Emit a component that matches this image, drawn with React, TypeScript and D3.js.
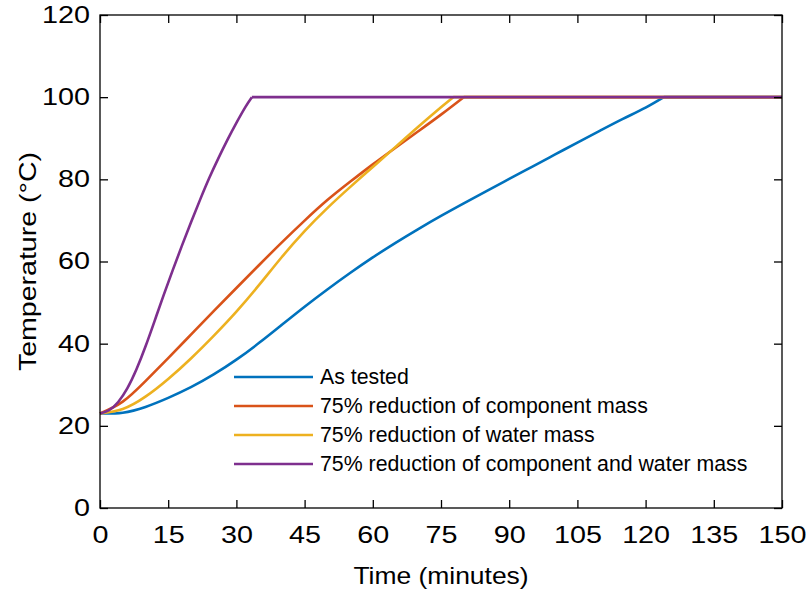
import React, { useEffect, useRef } from 'react';
import { select, scaleLinear, axisBottom, axisLeft, axisTop, axisRight, line, curveNatural } from 'd3';

// time (minutes) / temperature (°C)
const timeAsTested = [0, 5, 10, 15, 20, 25, 30, 35, 40, 45, 50, 55, 60, 65, 70, 75, 80, 85, 90, 95, 100, 105, 110, 115, 120, 124, 150];
const tempAsTested = [23, 23.2, 24.6, 26.8, 29.4, 32.5, 36.1, 40.2, 44.6, 49.0, 53.2, 57.2, 61.0, 64.55, 67.9, 71.1, 74.15, 77.15, 80.1, 83.05, 86.0, 88.95, 91.85, 94.7, 97.45, 100, 100];

const timeComponent = [0, 5, 10, 15, 20, 25, 30, 35, 40, 45, 50, 55, 60, 65, 70, 75, 80, 150];
const tempComponent = [23, 25.9, 30.9, 36.5, 42.2, 47.9, 53.55, 59.15, 64.65, 69.95, 74.95, 79.4, 83.65, 87.7, 91.7, 95.75, 100, 100];

const timeWater = [0, 5, 10, 15, 20, 25, 30, 35, 40, 45, 50, 55, 60, 65, 70, 75, 77.7, 150];
const tempWater = [23, 24.1, 27.1, 31.4, 36.4, 41.9, 47.8, 54.3, 61.1, 67.4, 73.0, 78.1, 83.0, 87.9, 92.8, 97.55, 100, 100];

const timeBoth = [0, 2, 4, 6, 8, 10, 12, 14, 16, 18, 20, 22, 24, 26, 28, 30, 32, 33.4, 150];
const tempBoth = [23, 23.8, 25.8, 29.1, 33.7, 39.3, 45.5, 51.8, 57.9, 63.8, 69.5, 75.0, 80.25, 85.05, 89.55, 93.75, 97.65, 100, 100];

const seriesNames = [
    'As tested',
    '75% reduction of component mass',
    '75% reduction of water mass',
    '75% reduction of component and water mass'
];
const seriesColors = ['#0072BD', '#D95319', '#EDB120', '#7E2F8E'];

const xTicks = [0, 15, 30, 45, 60, 75, 90, 105, 120, 135, 150];
const yTicks = [0, 20, 40, 60, 80, 100, 120];

const W = 809;
const H = 592;
const FONT = '"Liberation Sans", Arial, Helvetica, sans-serif';

export default function App() {
    const svgRef = useRef<SVGSVGElement>(null);

    useEffect(() => {
        if (!svgRef.current) return;
        const svg = select(svgRef.current);
        svg.html('');

        const margin = { top: 15, right: 27, bottom: 84, left: 100 };
        const cw = W - margin.left - margin.right;
        const ch = H - margin.top - margin.bottom;

        const x = scaleLinear().domain([0, 150]).range([0, cw]);
        const y = scaleLinear().domain([0, 120]).range([ch, 0]);

        const g = svg.append('g').attr('transform', `translate(${margin.left},${margin.top})`);

        const series = [
            { t: timeAsTested, v: tempAsTested },
            { t: timeComponent, v: tempComponent },
            { t: timeWater, v: tempWater },
            { t: timeBoth, v: tempBoth }
        ];

        const smooth = line<[number, number]>()
            .x(d => x(d[0]))
            .y(d => y(d[1]))
            .curve(curveNatural);
        const straight = line<[number, number]>()
            .x(d => x(d[0]))
            .y(d => y(d[1]));

        series.forEach((s, i) => {
            const pts: [number, number][] = s.t.map((t, k) => [t, s.v[k]]);
            const top = pts.findIndex(p => p[1] >= 100);
            // heating part is smooth, the boiling plateau is a straight line
            g.append('path')
                .attr('d', straight(pts.slice(top)))
                .attr('fill', 'none')
                .attr('stroke', seriesColors[i])
                .attr('stroke-width', 2.6);
            g.append('path')
                .attr('d', smooth(pts.slice(0, top + 1)))
                .attr('fill', 'none')
                .attr('stroke', seriesColors[i])
                .attr('stroke-width', 2.6)
                .attr('stroke-linejoin', 'round');
        });

        // axes, ticks pointing inwards on all four sides
        const styleAxis = (a: any) => {
            a.select('.domain').remove();
            a.selectAll('line').attr('stroke', '#000').attr('stroke-width', 1.3);
            a.selectAll('text')
                .attr('fill', '#000')
                .style('font-family', FONT)
                .style('font-size', '23px');
        };

        const bottom = g.append('g')
            .attr('transform', `translate(0,${ch})`)
            .call(axisBottom(x).tickValues(xTicks).tickSizeInner(-8).tickSizeOuter(0).tickPadding(19));
        styleAxis(bottom);
        bottom.selectAll('text').attr('transform', 'scale(1.25,1)');

        const left = g.append('g')
            .call(axisLeft(y).tickValues(yTicks).tickSizeInner(-8).tickSizeOuter(0).tickPadding(8));
        styleAxis(left);
        left.selectAll('text').attr('transform', 'scale(1.25,1)');

        const topAxis = g.append('g')
            .call(axisTop(x).tickValues(xTicks).tickSizeInner(-8).tickSizeOuter(0).tickFormat(() => ''));
        styleAxis(topAxis);

        const right = g.append('g')
            .attr('transform', `translate(${cw},0)`)
            .call(axisRight(y).tickValues(yTicks).tickSizeInner(-8).tickSizeOuter(0).tickFormat(() => ''));
        styleAxis(right);

        g.append('rect')
            .attr('width', cw)
            .attr('height', ch)
            .attr('fill', 'none')
            .attr('stroke', '#000')
            .attr('stroke-width', 1.3);

        // axis titles
        svg.append('text')
            .attr('transform', `translate(${margin.left + cw / 2},${H - 8}) scale(1.15,1)`)
            .attr('text-anchor', 'middle')
            .style('font-family', FONT)
            .style('font-size', '23px')
            .text('Time (minutes)');

        svg.append('text')
            .attr('transform', `translate(36,${margin.top + ch / 2}) rotate(-90) scale(1.19,1)`)
            .attr('text-anchor', 'middle')
            .style('font-family', FONT)
            .style('font-size', '24px')
            .text('Temperature (\u00B0C)');

        // legend
        const legend = g.append('g').attr('transform', `translate(134,362)`);
        seriesNames.forEach((name, i) => {
            const row = legend.append('g').attr('transform', `translate(0,${i * 29})`);
            row.append('line')
                .attr('x1', 0)
                .attr('x2', 79)
                .attr('stroke', seriesColors[i])
                .attr('stroke-width', 2.6);
            row.append('text')
                .attr('x', 86)
                .attr('dy', '0.35em')
                .style('font-family', FONT)
                .style('font-size', '21.3px')
                .text(name);
        });
    }, []);

    return (
        <svg
            ref={svgRef}
            width={W}
            height={H}
            style={{ position: 'absolute', left: 0, top: 0, background: '#fff' }}
        />
    );
}
